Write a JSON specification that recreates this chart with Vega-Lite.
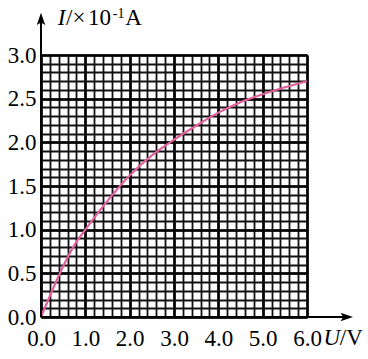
{
  "$schema": "https://vega.github.io/schema/vega-lite/v6.json",
  "autosize": "none",
  "width": 266,
  "height": 262,
  "padding": {"left": 41, "top": 55, "right": 61, "bottom": 42},
  "background": "white",
  "config": {"view": {"stroke": null}, "font": "Liberation Serif"},
  "datasets": {
    "curve": [
      {"U": 0.0, "I": 0.0},
      {"U": 0.25, "I": 0.3},
      {"U": 0.5, "I": 0.58},
      {"U": 0.75, "I": 0.82},
      {"U": 1.0, "I": 1.0},
      {"U": 1.25, "I": 1.17},
      {"U": 1.5, "I": 1.33},
      {"U": 2.0, "I": 1.62},
      {"U": 2.5, "I": 1.85},
      {"U": 3.0, "I": 2.03},
      {"U": 3.5, "I": 2.19},
      {"U": 4.0, "I": 2.34},
      {"U": 4.5, "I": 2.46},
      {"U": 5.0, "I": 2.55},
      {"U": 5.5, "I": 2.63},
      {"U": 6.0, "I": 2.7}
    ],
    "one": [{"k": 1}]
  },
  "resolve": {"axis": {"x": "independent", "y": "independent"}},
  "layer": [
    {
      "data": {"name": "curve"},
      "mark": {"type": "line", "color": "#e2609c", "strokeWidth": 2.2, "interpolate": "monotone"},
      "encoding": {
        "x": {"field": "U", "type": "quantitative",
          "scale": {"domain": [0, 6], "nice": false, "zero": true},
          "axis": {"orient": "bottom", "values": [0,0.2,0.4,0.6,0.8,1,1.2,1.4,1.6,1.8,2,2.2,2.4,2.6,2.8,3,3.2,3.4,3.6,3.8,4,4.2,4.4,4.6,4.8,5,5.2,5.4,5.6,5.8,6],
            "grid": true, "gridColor": "#111", "gridWidth": 1.8, "gridOpacity": 1,
            "labels": false, "ticks": false, "domain": false, "title": null}},
        "y": {"field": "I", "type": "quantitative",
          "scale": {"domain": [0, 3], "nice": false, "zero": true},
          "axis": {"orient": "left", "values": [0,0.1,0.2,0.3,0.4,0.5,0.6,0.7,0.8,0.9,1,1.1,1.2,1.3,1.4,1.5,1.6,1.7,1.8,1.9,2,2.1,2.2,2.3,2.4,2.5,2.6,2.7,2.8,2.9,3],
            "grid": true, "gridColor": "#111", "gridWidth": 1.8, "gridOpacity": 1,
            "labels": false, "ticks": false, "domain": false, "title": null}}
      }
    },
    {
      "data": {"name": "one"},
      "mark": {"type": "rule", "color": "black", "strokeWidth": 2},
      "encoding": {
        "x": {"datum": 0, "type": "quantitative",
          "axis": {"orient": "bottom", "values": [0,1,2,3,4,5,6], "format": ".1f",
            "grid": true, "gridColor": "black", "gridWidth": 2.6, "gridOpacity": 1,
            "ticks": false, "tickSize": 0, "domain": false, "title": null,
            "labelFont": "Liberation Serif", "labelFontSize": 23, "labelColor": "black",
            "labelBaseline": "alphabetic", "labelPadding": 28, "labelFlush": false}},
        "y": {"datum": 0, "type": "quantitative",
          "axis": {"orient": "left", "values": [0,0.5,1,1.5,2,2.5,3], "format": ".1f",
            "grid": true, "gridColor": "black", "gridWidth": 2.6, "gridOpacity": 1,
            "ticks": false, "tickSize": 0, "domain": false, "title": null,
            "labelFont": "Liberation Serif", "labelFontSize": 23, "labelColor": "black",
            "labelBaseline": "middle", "labelPadding": 5, "labelFlush": false}},
        "y2": {"datum": 3.41}
      }
    },
    {
      "data": {"name": "one"},
      "mark": {"type": "rule", "color": "black", "strokeWidth": 2},
      "encoding": {
        "x": {"datum": 0, "type": "quantitative", "axis": null},
        "x2": {"datum": 6.89},
        "y": {"datum": 0, "type": "quantitative", "axis": null}
      }
    },
    {
      "data": {"name": "one"},
      "mark": {"type": "point", "filled": true, "color": "black", "opacity": 1, "size": 169,
        "shape": "M0,-1L0.65,0.9L0,0.5L-0.65,0.9Z"},
      "encoding": {
        "x": {"datum": 0, "type": "quantitative", "axis": null},
        "y": {"datum": 3.41, "type": "quantitative", "axis": null}
      }
    },
    {
      "data": {"name": "one"},
      "mark": {"type": "point", "filled": true, "color": "black", "opacity": 1, "size": 169,
        "shape": "M1,0L-0.9,0.65L-0.5,0L-0.9,-0.65Z"},
      "encoding": {
        "x": {"datum": 6.89, "type": "quantitative", "axis": null},
        "y": {"datum": 0, "type": "quantitative", "axis": null}
      }
    },
    {
      "data": {"name": "one"},
      "mark": {"type": "text", "font": "Liberation Serif", "fontSize": 23, "fontStyle": "italic", "align": "left", "baseline": "alphabetic", "color": "black"},
      "encoding": {
        "x": {"datum": 0.38, "type": "quantitative", "axis": null},
        "y": {"datum": 3.344, "type": "quantitative", "axis": null},
        "text": {"value": "I"}
      }
    },
    {
      "data": {"name": "one"},
      "mark": {"type": "text", "font": "Liberation Serif", "fontSize": 23, "align": "left", "baseline": "alphabetic", "color": "black"},
      "encoding": {
        "x": {"datum": 0.564, "type": "quantitative", "axis": null},
        "y": {"datum": 3.344, "type": "quantitative", "axis": null},
        "text": {"value": "/×"}
      }
    },
    {
      "data": {"name": "one"},
      "mark": {"type": "text", "font": "Liberation Serif", "fontSize": 23, "align": "left", "baseline": "alphabetic", "color": "black"},
      "encoding": {
        "x": {"datum": 1.06, "type": "quantitative", "axis": null},
        "y": {"datum": 3.344, "type": "quantitative", "axis": null},
        "text": {"value": "10"}
      }
    },
    {
      "data": {"name": "one"},
      "mark": {"type": "text", "font": "Liberation Serif", "fontSize": 14, "align": "left", "baseline": "alphabetic", "color": "black"},
      "encoding": {
        "x": {"datum": 1.62, "type": "quantitative", "axis": null},
        "y": {"datum": 3.42, "type": "quantitative", "axis": null},
        "text": {"value": "-1"}
      }
    },
    {
      "data": {"name": "one"},
      "mark": {"type": "text", "font": "Liberation Serif", "fontSize": 23, "align": "left", "baseline": "alphabetic", "color": "black"},
      "encoding": {
        "x": {"datum": 1.9, "type": "quantitative", "axis": null},
        "y": {"datum": 3.344, "type": "quantitative", "axis": null},
        "text": {"value": "A"}
      }
    },
    {
      "data": {"name": "one"},
      "mark": {"type": "text", "font": "Liberation Serif", "fontSize": 23, "fontStyle": "italic", "align": "left", "baseline": "alphabetic", "color": "black"},
      "encoding": {
        "x": {"datum": 6.37, "type": "quantitative", "axis": null},
        "y": {"datum": -0.32, "type": "quantitative", "axis": null},
        "text": {"value": "U"}
      }
    },
    {
      "data": {"name": "one"},
      "mark": {"type": "text", "font": "Liberation Serif", "fontSize": 23, "align": "left", "baseline": "alphabetic", "color": "black"},
      "encoding": {
        "x": {"datum": 6.74, "type": "quantitative", "axis": null},
        "y": {"datum": -0.32, "type": "quantitative", "axis": null},
        "text": {"value": "/V"}
      }
    }
  ]
}
